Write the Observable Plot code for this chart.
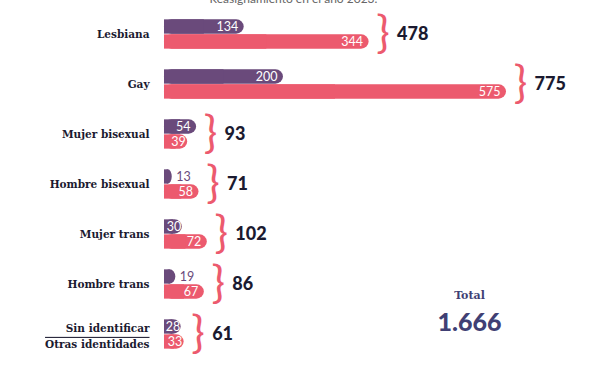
<!DOCTYPE html>
<html>
<head>
<meta charset="utf-8">
<script src="https://cdn.jsdelivr.net/npm/d3@7"></script>
<script src="https://cdn.jsdelivr.net/npm/@observablehq/plot@0.6"></script>
<style>
  html, body { margin: 0; padding: 0; background: #fff; }
  #chart { width: 595px; height: 375px; overflow: hidden; }
</style>
</head>
<body>
<div id="chart"></div>
<script>
// ---- data ----
const categories = ["Lesbiana", "Gay", "Mujer bisexual", "Hombre bisexual", "Mujer trans", "Hombre trans", "Sin identificar / Otras identidades"];
const seriesPurple = [134, 200, 54, 13, 30, 19, 28];
const seriesPink = [344, 575, 39, 58, 72, 67, 33];
const totals = [478, 775, 93, 71, 102, 86, 61];
const subtitle = "Reasignamiento en el año 2023.";
const totalLabel = "Total";

// ---- styles ----
const PURPLE = "#6a4a7b";
const PINK = "#ec5a6e";
const NAVY = "#1b1a30";
const TOTAL_C = "#403f74";

const rows = categories.map((c, i) => ({
  cat: c, p: seriesPurple[i], r: seriesPink[i], t: totals[i],
  m: Math.max(seriesPurple[i], seriesPink[i])
}));
const grand = d3.sum(seriesPurple) + d3.sum(seriesPink);
const fmt = d3.formatLocale({decimal: ",", thousands: ".", grouping: [3], currency: ["", "€"]}).format(",");

const lastCat = categories[categories.length - 1];
const half = 355 / 7 / 2;
const bh = 15;
const labelFont = {fill: NAVY, fontSize: 10.5, fontWeight: 700, fontFamily: "DejaVu Serif"};

const svg = Plot.plot({
  width: 595, height: 375, margin: 0,
  x: {domain: [0, 575], range: [164, 506], axis: null},
  y: {type: "band", domain: categories, range: [6, 361], padding: 0, axis: null},
  style: {background: "white", fontFamily: "Lato, sans-serif"},
  marks: [
    // purple bars (rounded right end)
    Plot.barX(rows, {y: "cat", x1: 0, x2: "p", fill: PURPLE, rx: bh / 2, insetTop: half - bh, insetBottom: half}),
    Plot.barX(rows, {y: "cat", x1: 0, x2: d => d.p / 2, fill: PURPLE, insetTop: half - bh, insetBottom: half}),
    // pink bars
    Plot.barX(rows, {y: "cat", x1: 0, x2: "r", fill: PINK, rx: bh / 2, insetTop: half, insetBottom: half - bh}),
    Plot.barX(rows, {y: "cat", x1: 0, x2: d => d.r / 2, fill: PINK, insetTop: half, insetBottom: half - bh}),
    // value labels
    Plot.text(rows.filter(d => d.p >= 40), {y: "cat", x: "p", text: "p", dy: -bh / 2, dx: -6, textAnchor: "end", fill: "white", fontSize: 12.5}),
    Plot.text(rows.filter(d => d.p >= 25 && d.p < 40), {y: "cat", x: "p", text: "p", dy: -bh / 2, dx: -1, textAnchor: "end", fill: "white", fontSize: 12.5}),
    Plot.text(rows.filter(d => d.p < 25), {y: "cat", x: "p", text: "p", dy: -bh / 2, dx: 4, textAnchor: "start", fill: PURPLE, fontSize: 12.5}),
    Plot.text(rows.filter(d => d.r >= 40), {y: "cat", x: "r", text: "r", dy: bh / 2, dx: -6, textAnchor: "end", fill: "white", fontSize: 12.5}),
    Plot.text(rows.filter(d => d.r < 40), {y: "cat", x: "r", text: "r", dy: bh / 2, dx: -2, textAnchor: "end", fill: "white", fontSize: 12.5}),
    // braces
    Plot.text(rows, {y: "cat", x: "m", text: () => "}", dx: 14, dy: -1, fill: PINK, fontSize: 45, fontWeight: 400}),
    // totals
    Plot.text(rows, {y: "cat", x: "m", text: "t", dx: 28, textAnchor: "start", fill: NAVY, fontSize: 18, fontWeight: 900}),
    // category labels
    Plot.text(rows.filter(d => d.cat !== lastCat), {y: "cat", x: 0, text: "cat", dx: -15, textAnchor: "end", ...labelFont}),
    Plot.text(rows.filter(d => d.cat === lastCat), {y: "cat", x: 0, text: d => d.cat.split(" / ")[0], dx: -15, dy: -6, textAnchor: "end", ...labelFont}),
    Plot.text(rows.filter(d => d.cat === lastCat), {y: "cat", x: 0, text: d => d.cat.split(" / ")[1], dx: -15, dy: 10, textAnchor: "end", ...labelFont}),
    // grand total
    Plot.text([totalLabel], {frameAnchor: "top-left", dx: 469, dy: 291, text: d => d, textAnchor: "middle", fill: TOTAL_C, fontSize: 11, fontWeight: 700, fontFamily: "DejaVu Serif"}),
    Plot.text([grand], {frameAnchor: "top-left", dx: 469, dy: 313, text: d => fmt(d), textAnchor: "middle", fill: TOTAL_C, fontSize: 25, fontWeight: 900}),
    // clipped subtitle at top
    Plot.text([subtitle], {frameAnchor: "top-left", dx: 293, dy: -6, text: d => d, textAnchor: "middle", fill: "#666", fontSize: 12})
  ]
});

d3.select(svg).selectAll("text")
  .filter(function () { return this.textContent === "Otras identidades"; })
  .style("text-decoration", "overline");

document.getElementById("chart").appendChild(svg);
</script>
</body>
</html>
